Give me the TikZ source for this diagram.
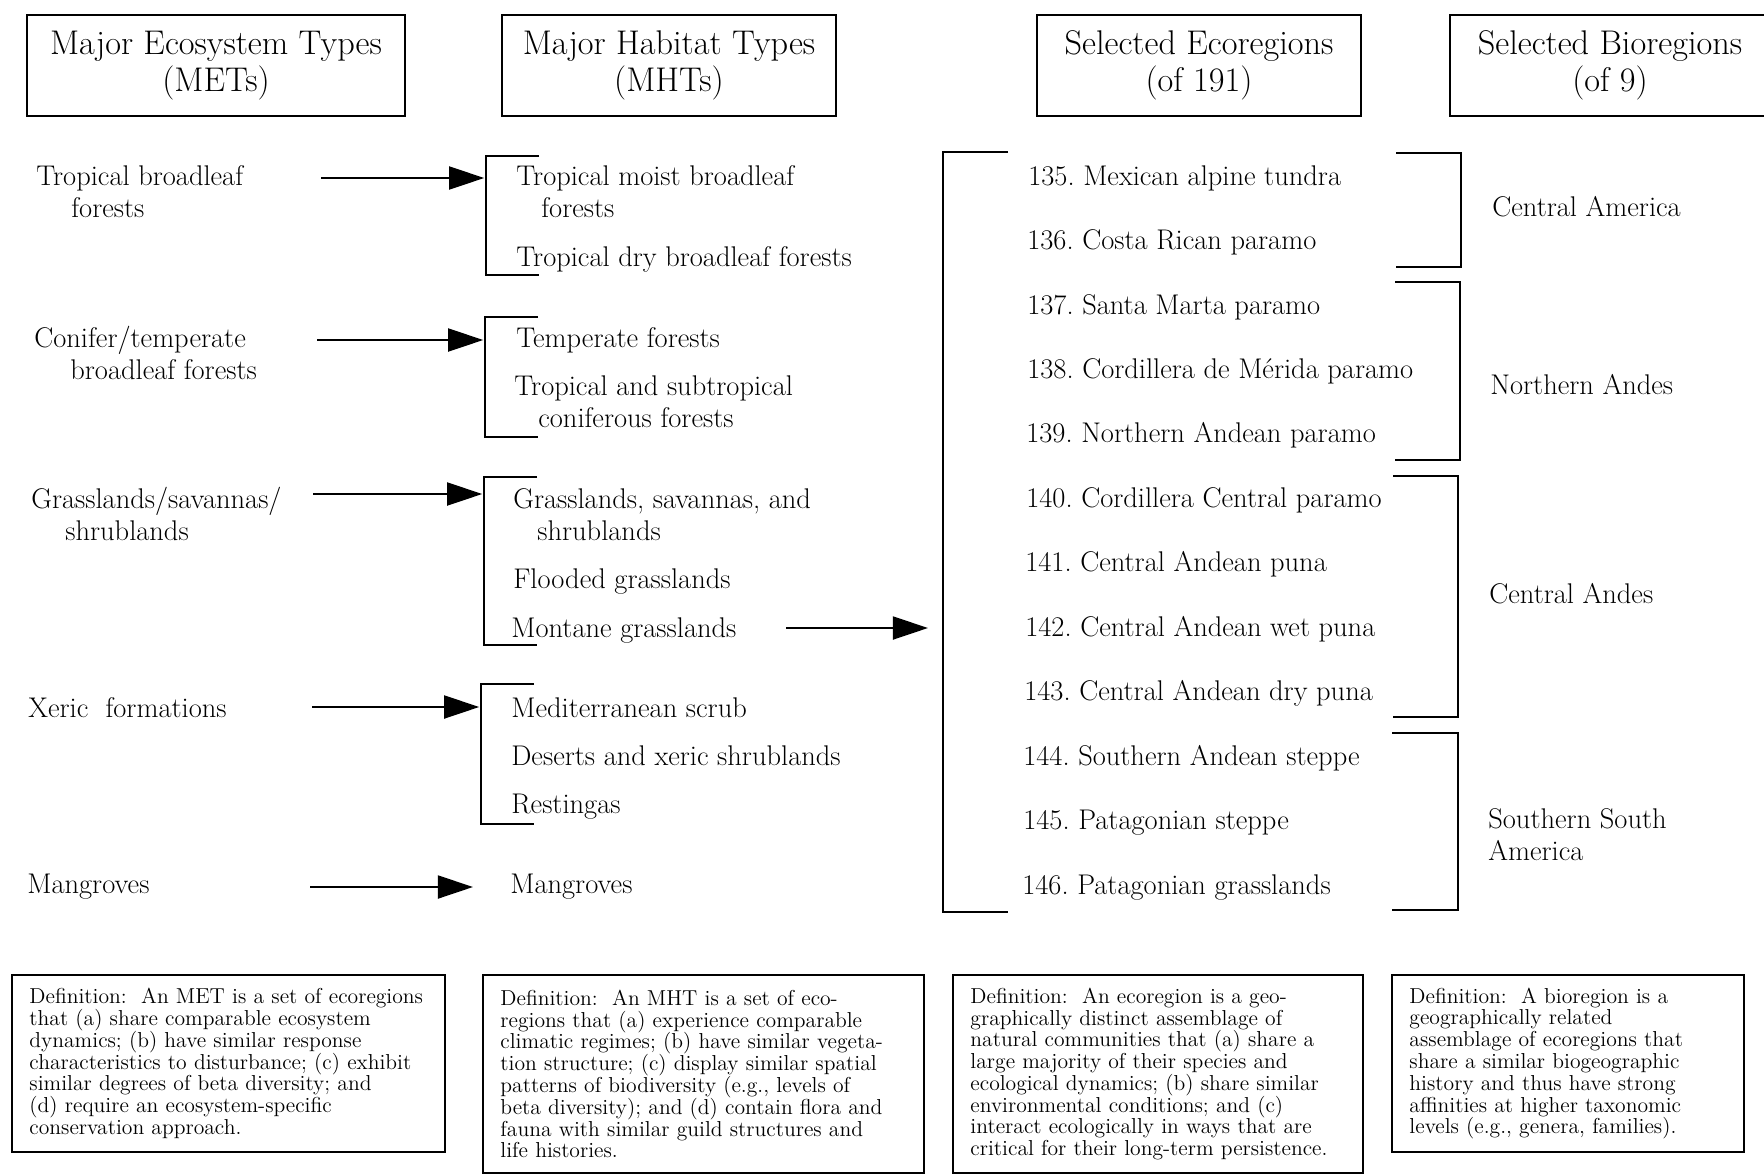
\documentclass[tikz,border=0pt]{standalone}
\usepackage{tikz}
\usetikzlibrary{arrows.meta}
\frenchspacing
\tikzstyle{headbox} = [
    draw,
    line width=1.2pt,
    rectangle,
    align=center,
    minimum height=2.02cm,
    font=\fontsize{19.5}{21}\selectfont
    ]
\tikzstyle{defbox} = [
    draw,
    line width=1.1pt,
    rectangle,
    anchor=north west,
    align=left,
    inner xsep=0.35cm,
    font=\fontsize{12.3}{12.4}\selectfont
    ]
\tikzstyle{item} = [
    anchor=base west,
    inner sep=0pt,
    align=left,
    font=\fontsize{16.2}{18.2}\selectfont
    ]
\tikzstyle{brack} = [line width=1.2pt]
\tikzstyle{feed} = [
    line width=1.5pt,
    shorten >=1pt,
    -{Triangle[length=20pt,width=13pt]}
    ]

\begin{document}
\begin{tikzpicture}[x=0.02cm, y=-0.02cm]
\useasboundingbox (0,0) rectangle (1764,1174);

% column heads
\node [headbox, minimum width=7.56cm] (met) at (216,65.5) {Major Ecosystem Types\\(METs)};
\node [headbox, minimum width=6.68cm] (mht) at (669,65.5) {Major Habitat Types\\(MHTs)};
\node [headbox, minimum width=6.48cm] (eco) at (1199,65.5) {Selected Ecoregions\\(of 191)};
\node [headbox, minimum width=6.4cm] (bio) at (1610,65.5) {Selected Bioregions\\(of 9)};

% METs (base = last line)
\node [item] (met1) at (36,217) {Tropical broadleaf\\\hspace*{0.7cm}forests};
\node [item] (met2) at (34,379) {Conifer/temperate\\\hspace*{0.72cm}broadleaf forests};
\node [item] (met3) at (31,540) {Grasslands/savannas/\\\hspace*{0.68cm}shrublands};
\node [item] (met4) at (28,717) {Xeric\ \ formations};
\node [item] (met5) at (27,893) {Mangroves};

% MHTs
\node [item] (hab1) at (516,217) {Tropical moist broadleaf\\\hspace*{0.5cm}forests};
\node [item] (hab2) at (516,266) {Tropical dry broadleaf forests};
\node [item] (hab3) at (516,347) {Temperate forests};
\node [item] (hab4) at (514,427) {Tropical and subtropical\\\hspace*{0.48cm}coniferous forests};
\node [item] (hab5) at (513,540) {Grasslands, savannas, and\\\hspace*{0.48cm}shrublands};
\node [item] (hab6) at (513,588) {Flooded grasslands};
\node [item] (hab7) at (511,637) {Montane grasslands};
\node [item] (hab8) at (511,717) {Mediterranean scrub};
\node [item] (hab9) at (511,765) {Deserts and xeric shrublands};
\node [item] (hab10) at (511,813) {Restingas};
\node [item] (hab11) at (510,893) {Mangroves};

% ecoregions
\node [item] (eco135) at (1028,185) {135. Mexican alpine tundra};
\node [item] (eco136) at (1027,249) {136. Costa Rican paramo};
\node [item] (eco137) at (1027,314) {137. Santa Marta paramo};
\node [item] (eco138) at (1027,378) {138. Cordillera de Mérida paramo};
\node [item] (eco139) at (1026,442) {139. Northern Andean paramo};
\node [item] (eco140) at (1026,507) {140. Cordillera Central paramo};
\node [item] (eco141) at (1025,571) {141. Central Andean puna};
\node [item] (eco142) at (1025,636) {142. Central Andean wet puna};
\node [item] (eco143) at (1024,700) {143. Central Andean dry puna};
\node [item] (eco144) at (1023,765) {144. Southern Andean steppe};
\node [item] (eco145) at (1023,829) {145. Patagonian steppe};
\node [item] (eco146) at (1022,894) {146. Patagonian grasslands};

% bioregions
\node [item] (bio1) at (1492,216) {Central America};
\node [item] (bio2) at (1490,394) {Northern Andes};
\node [item] (bio3) at (1489,603) {Central Andes};
\node [item] (bio4) at (1488,860) {Southern South\\America};

% brackets
\coordinate (brk1) at (486,156);
\coordinate (brk2) at (485,317);
\coordinate (brk3) at (484,477);
\coordinate (brk4) at (481,684);
\coordinate (ecobrk) at (943,152);
\draw [brack] (539,156) -| (486,275) -- (539,275);
\draw [brack] (538,317) -| (485,437) -- (538,437);
\draw [brack] (537,477) -| (484,645) -- (537,645);
\draw [brack] (534,684) -| (481,824) -- (534,824);
\draw [brack] (1008,152) -| (943,912) -- (1008,912);
\draw [brack] (1396,153) -| (1461,267) -- (1396,267);
\draw [brack] (1395,282) -| (1460,460) -- (1395,460);
\draw [brack] (1393,476) -| (1458,717) -- (1393,717);
\draw [brack] (1392,733) -| (1458,910) -- (1392,910);

% arrows
\coordinate (met1out) at (321,178);
\coordinate (met2out) at (317,340);
\coordinate (met3out) at (313,494);
\coordinate (met4out) at (312,707);
\coordinate (met5out) at (310,887);
\coordinate (hab7out) at (786,628);
\draw [feed] (met1out) -- (met1out -| brk1);
\draw [feed] (met2out) -- (met2out -| brk2);
\draw [feed] (met3out) -- (met3out -| brk3);
\draw [feed] (met4out) -- (met4out -| brk4);
\draw [feed, shorten >=0.74cm] (met5out) -- (met5out -| hab11.west);
\draw [feed, shorten >=0.3cm] (hab7out) -- (hab7out -| ecobrk);

% definitions
\node [defbox, text width=7.96cm, minimum height=3.54cm] (metdef) at (11,974) {Definition:\ \ An MET is a set of ecoregions\\
that (a) share comparable ecosystem\\
dynamics; (b) have similar response\\
characteristics to disturbance; (c) exhibit\\
similar degrees of beta diversity; and\\
(d) require an ecosystem-specific\\
conservation approach.};
\node [defbox, text width=8.12cm, minimum height=3.96cm] (mhtdef) at (482,974) {Definition:\ \ An MHT is a set of eco-\\
regions that (a) experience comparable\\
climatic regimes; (b) have similar vegeta-\\
tion structure; (c) display similar spatial\\
patterns of biodiversity (e.g., levels of\\
beta diversity); and (d) contain flora and\\
fauna with similar guild structures and\\
life histories.};
\node [defbox, text width=7.5cm, minimum height=3.96cm] (ecodef) at (952,974) {Definition:\ \ An ecoregion is a geo-\\
graphically distinct assemblage of\\
natural communities that (a) share a\\
large majority of their species and\\
ecological dynamics; (b) share similar\\
environmental conditions; and (c)\\
interact ecologically in ways that are\\
critical for their long-term persistence.};
\node [defbox, text width=6.34cm, minimum height=3.54cm] (biodef) at (1391,974) {Definition:\ \ A bioregion is a\\
geographically related\\
assemblage of ecoregions that\\
share a similar biogeographic\\
history and thus have strong\\
affinities at higher taxonomic\\
levels (e.g., genera, families).};
\end{tikzpicture}
\end{document}
